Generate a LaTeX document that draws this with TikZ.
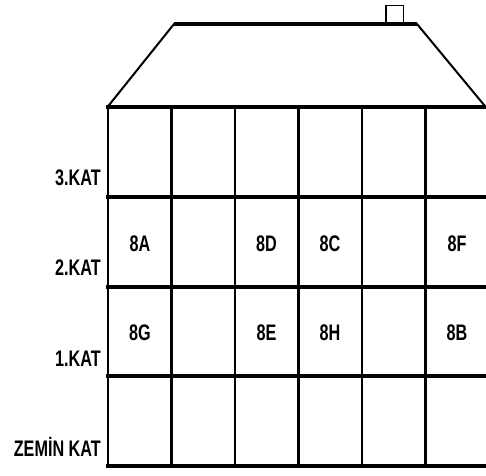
\documentclass[tikz,border=0pt]{standalone}
\usepackage{fontspec}
\setmainfont{Liberation Sans}[FakeStretch=0.72]
\begin{document}
\begin{tikzpicture}[x=1pt,y=-1pt,
  hline/.style={line width=3.6pt},
  vline/.style={line width=2.2pt},
  roofline/.style={line width=2pt},
  floorlbl/.style={anchor=east,font=\fontsize{22.5}{22.5}\selectfont\bfseries,inner sep=0pt},
  unitlbl/.style={font=\fontsize{22.5}{22.5}\selectfont\bfseries,inner sep=0pt}]
\useasboundingbox (0,0) rectangle (486,475);
\begin{scope}
\clip (0,0) rectangle (486,475);
% roof
\draw[roofline,line join=miter] (107.5,107) -- (174,24) -- (417,24) -- (486+66,107+80);
\draw[line width=3.6pt] (174,24) -- (417,24);
% chimney
\draw[line width=1.8pt] (386,24) -- (386,5.5) -- (403.5,5.5) -- (403.5,24);
% floors
\foreach \y in {107,197,287,376,466} \draw[hline] (106,\y) -- (490,\y);
% columns
\foreach \x in {108,171.5,235,298.5,362,425.5} \draw[vline] (\x,107) -- (\x,466);
\end{scope}
% floor labels
\node[floorlbl] (k3) at (101,178) {3.KAT};
\node[floorlbl] (k2) at (101,268) {2.KAT};
\node[floorlbl] (k1) at (101,359) {1.KAT};
\node[floorlbl] (k0) at (101,447) {ZEMİN KAT};
% units
\node[unitlbl] (u8A) at (140,244) {8A};
\node[unitlbl] (u8D) at (266.5,244) {8D};
\node[unitlbl] (u8C) at (330,244) {8C};
\node[unitlbl] (u8F) at (457,244) {8F};
\node[unitlbl] (u8G) at (140,333) {8G};
\node[unitlbl] (u8E) at (266.5,333) {8E};
\node[unitlbl] (u8H) at (330,333) {8H};
\node[unitlbl] (u8B) at (457,333) {8B};
\end{tikzpicture}
\end{document}
